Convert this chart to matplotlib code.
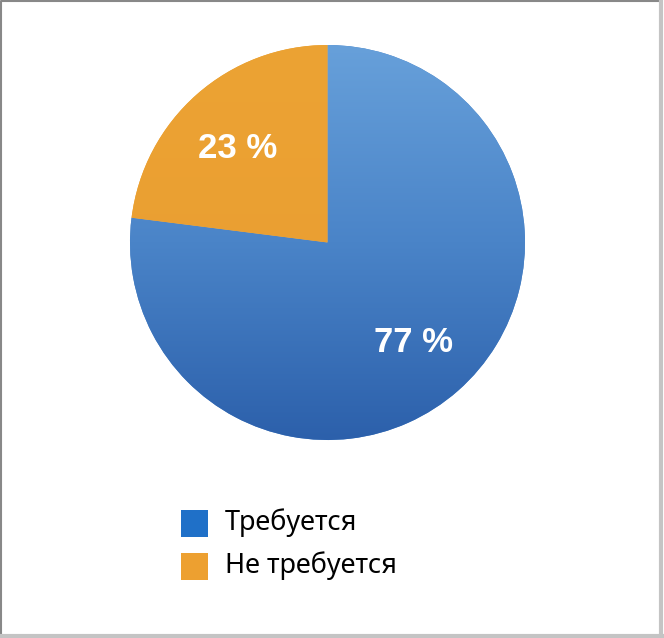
import numpy as np
import matplotlib
matplotlib.use("Agg")
import matplotlib.pyplot as plt
from matplotlib.patches import Rectangle
from matplotlib.colors import LinearSegmentedColormap

categories = ["Требуется", "Не требуется"]
values = [77, 23]
labels = ["77 %", "23 %"]
legend_colors = ["#1f70c8", "#eda030"]

W, H = 664, 638
fig = plt.figure(figsize=(W / 100, H / 100), dpi=100)
ax = fig.add_axes([0, 0, 1, 1])
ax.set_xlim(0, W)
ax.set_ylim(H, 0)
ax.set_aspect("equal")
ax.axis("off")

cx, cy, r = 327.5, 242.5, 197.5
# y axis is inverted, so counterclock=True draws clockwise on screen
wedges, _ = ax.pie(values, center=(cx, cy), radius=r, startangle=-90,
                   counterclock=True, colors=["#4a84c8", "#eba032"],
                   wedgeprops=dict(linewidth=0), frame=True)
ax.set_xlim(0, W)
ax.set_ylim(H, 0)
ax.axis("off")

# gradients
blue_cmap = LinearSegmentedColormap.from_list("b", ["#67a0da", "#4a84c8", "#2c60ab"])
orange_cmap = LinearSegmentedColormap.from_list("o", ["#eca334", "#e99c30"])
grad = np.linspace(0, 1, 256).reshape(-1, 1)
for w, cm in zip(wedges, [blue_cmap, orange_cmap]):
    im = ax.imshow(grad, cmap=cm, extent=(cx - r, cx + r, cy + r, cy - r),
                   aspect="auto", zorder=2, interpolation="bilinear")
    im.set_clip_path(w)
ax.set_xlim(0, W)
ax.set_ylim(H, 0)

# value labels
label_pos = [(414, 343), (238, 148)]
for (x, y), t in zip(label_pos, labels):
    ax.text(x, y, t, color="white", fontsize=25, fontweight="bold",
            family="Liberation Sans", ha="center", va="center", zorder=5)

# legend
for i, (cat, col) in enumerate(zip(categories, legend_colors)):
    y0 = 510 + i * 43
    ax.add_patch(Rectangle((181, y0), 27, 27, facecolor=col, edgecolor="none", zorder=5))
    ax.text(225, y0 + 13, cat, fontsize=19.5, family="Noto Sans", ha="left",
            va="center", color="black", zorder=5)

# border
ax.plot([1, 1, W - 4], [H - 3, 1, 1], color="#888888", lw=1.5, zorder=6, solid_capstyle="butt")
ax.plot([W - 3, W - 3], [0, H - 2], color="#c4c4c4", lw=3, zorder=6)
ax.plot([0, W - 2], [H - 2.5, H - 2.5], color="#c4c4c4", lw=3, zorder=6)

fig.savefig("out.png", dpi=100)
